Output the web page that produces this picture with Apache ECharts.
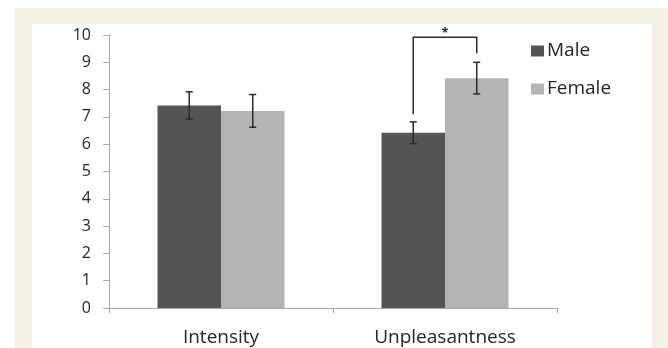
<!DOCTYPE html>
<html>
<head>
<meta charset="utf-8">
<script src="https://cdn.jsdelivr.net/npm/echarts@6/dist/echarts.min.js"></script>
<style>
html,body{margin:0;padding:0;background:#fff;}
#chart{width:668px;height:348px;}
</style>
</head>
<body>
<div id="chart"></div>
<script>
// ---- data ----
var categories = ['Intensity', 'Unpleasantness'];
var maleValues = [7.42, 6.42];
var femaleValues = [7.22, 8.42];
var maleErrors = [0.5, 0.4];
var femaleErrors = [0.6, 0.58];
var yTicks = [0, 1, 2, 3, 4, 5, 6, 7, 8, 9, 10];
// significance bracket (category index, left end, top, right end) in value units
var bracketCategory = 1;
var bracketLeftY = 7.1;
var bracketTopY = 9.92;
var bracketRightY = 9.33;
var bracketLabel = '*';

// ---- style ----
var FONT = '"Open Sans", "Liberation Sans", sans-serif';
var BAR_W = 63.5;
var MALE_C = '#545454';
var FEMALE_C = '#b4b4b4';
var INK = '#2a2a2a';
var TEXT_C = '#262626';

var chart = echarts.init(document.getElementById('chart'), null, {renderer: 'canvas'});

function errorItem(side) {
  return function (params, api) {
    var i = api.value(0);
    var v = api.value(1);
    var e = api.value(2);
    var top = api.coord([i, v + e]);
    var bot = api.coord([i, v - e]);
    var x = top[0] + side * BAR_W / 2;
    var cap = 3.5;
    var st = {stroke: INK, lineWidth: 1.5};
    return {
      type: 'group',
      children: [
        {type: 'line', shape: {x1: x, y1: top[1], x2: x, y2: bot[1]}, style: st},
        {type: 'line', shape: {x1: x - cap, y1: top[1], x2: x + cap, y2: top[1]}, style: st},
        {type: 'line', shape: {x1: x - cap, y1: bot[1], x2: x + cap, y2: bot[1]}, style: st}
      ]
    };
  };
}

var option = {
  backgroundColor: '#ffffff',
  animation: false,
  graphic: [
    {type: 'rect', z: -10, shape: {x: 15, y: 8, width: 653, height: 340}, style: {fill: '#f4f0e3'}},
    {type: 'rect', z: -9, shape: {x: 32, y: 24, width: 620, height: 324}, style: {fill: '#ffffff'}}
  ],
  grid: {left: 109, right: 111, top: 35, bottom: 40, containLabel: false},
  legend: {
    orient: 'vertical',
    left: 526,
    top: 36,
    itemWidth: 13,
    itemHeight: 11,
    itemGap: 18,
    icon: 'rect',
    textStyle: {fontFamily: FONT, fontSize: 19, color: TEXT_C, lineHeight: 20, padding: [0, 0, 0, -2]},
    data: ['Male', 'Female']
  },
  xAxis: {
    type: 'category',
    data: categories,
    axisLine: {lineStyle: {color: '#a8a8a8', width: 1}},
    axisTick: {show: true, length: 5, lineStyle: {color: '#a8a8a8'}},
    axisLabel: {fontFamily: FONT, fontSize: 19, color: TEXT_C, margin: 20}
  },
  yAxis: {
    type: 'value',
    min: 0,
    max: 10,
    interval: 1,
    splitLine: {show: false},
    axisLine: {show: true, lineStyle: {color: '#a8a8a8', width: 1}},
    axisTick: {show: true, length: 6, lineStyle: {color: '#a8a8a8'}},
    axisLabel: {
      fontFamily: FONT, fontSize: 16, color: TEXT_C, margin: 18,
      formatter: function (v) { return yTicks.indexOf(v) >= 0 ? String(v) : ''; }
    }
  },
  series: [
    {
      name: 'Male', type: 'bar', barWidth: BAR_W, barGap: '0%',
      itemStyle: {color: MALE_C}, data: maleValues
    },
    {
      name: 'Female', type: 'bar', barWidth: BAR_W, barGap: '0%',
      itemStyle: {color: FEMALE_C}, data: femaleValues
    },
    {
      type: 'custom', z: 5, silent: true,
      renderItem: errorItem(-1),
      data: maleValues.map(function (v, i) { return [i, v, maleErrors[i]]; })
    },
    {
      type: 'custom', z: 5, silent: true,
      renderItem: errorItem(1),
      data: femaleValues.map(function (v, i) { return [i, v, femaleErrors[i]]; })
    },
    {
      type: 'custom', z: 6, silent: true,
      renderItem: function (params, api) {
        var i = api.value(0);
        var pl = api.coord([i, api.value(1)]);
        var pt = api.coord([i, api.value(2)]);
        var pr = api.coord([i, api.value(3)]);
        var xl = pl[0] - BAR_W / 2;
        var xr = pl[0] + BAR_W / 2;
        var st = {stroke: INK, lineWidth: 1.5, fill: null};
        return {
          type: 'group',
          children: [
            {type: 'polyline', shape: {points: [[xl, pl[1]], [xl, pt[1]], [xr, pt[1]], [xr, pr[1]]]}, style: st},
            {type: 'text', style: {text: bracketLabel, x: (xl + xr) / 2, y: pt[1] + 3, align: 'center', verticalAlign: 'bottom',
              font: 'bold 13px ' + FONT, fill: INK}}
          ]
        };
      },
      data: [[bracketCategory, bracketLeftY, bracketTopY, bracketRightY]]
    }
  ]
};
chart.setOption(option);
</script>
</body>
</html>
